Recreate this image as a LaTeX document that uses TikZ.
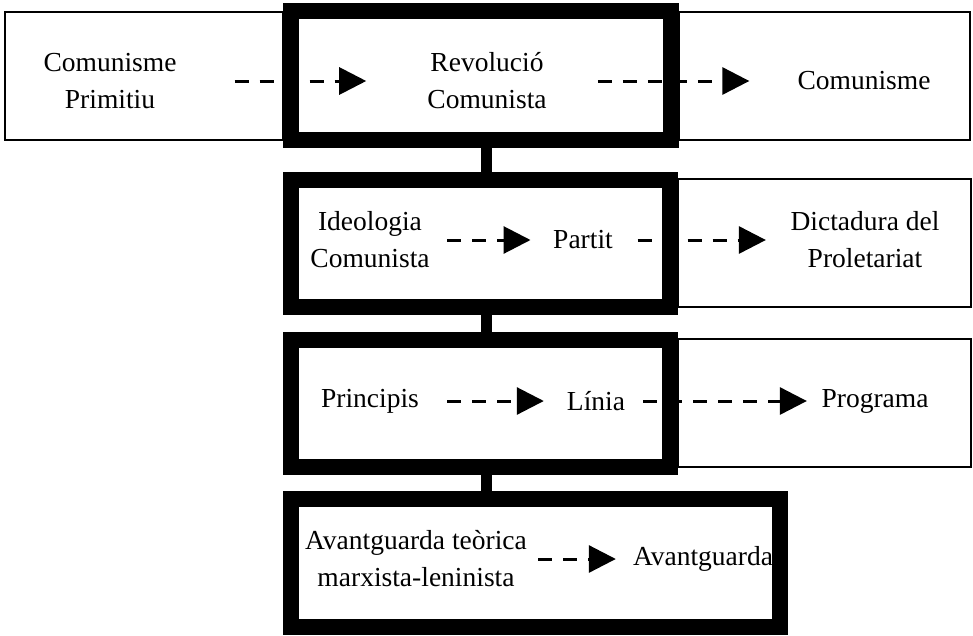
\documentclass[tikz,border=0pt]{standalone}
\usepackage{fontspec}
\setmainfont{Liberation Serif}
\usetikzlibrary{arrows.meta}

\begin{document}
\begin{tikzpicture}[x=1pt,y=-1pt,
		frame/.style={draw, line width=16pt, minimum width=380pt, inner sep=0pt},
		thinbox/.style={draw, line width=1.5pt, inner sep=0pt},
		lbl/.style={align=center, inner sep=0pt, font=\fontsize{27.5}{37}\selectfont},
		flow/.style={line width=3pt, dash pattern=on 14pt off 11pt, -{Triangle[length=27pt,width=27pt]}},
		link/.style={line width=11pt}]
		\useasboundingbox (0,0) rectangle (973,635);
		
		% thin boxes behind
		\node (left1) at (144,76) [thinbox, minimum width=278pt, minimum height=128pt] {};
		\node (right1) at (824.5,76) [thinbox, minimum width=291pt, minimum height=128pt] {};
		\node (right2) at (824.5,243) [thinbox, minimum width=293pt, minimum height=128pt] {};
		\node (right3) at (824.5,403) [thinbox, minimum width=293pt, minimum height=128pt] {};
		
		% thick frames
		\node (frame1) at (481,75.5) [frame, minimum height=129pt] {};
		\node (frame2) at (480.5,243.5) [frame, minimum width=379pt, minimum height=127pt] {};
		\node (frame3) at (480.5,403.5) [frame, minimum width=379pt, minimum height=127pt] {};
		\node (frame4) at (535.5,563) [frame, minimum width=489pt, minimum height=128pt] {};
		
		\draw[link] ([xshift=5pt]frame1.south) -- ([xshift=5.5pt]frame2.north);
		\draw[link] ([xshift=5.5pt]frame2.south) -- ([xshift=5.5pt]frame3.north);
		\draw[link] ([xshift=5.5pt]frame3.south) -- ([xshift=-49.5pt]frame4.north);
		
		% texts
		\node (prim) at (110,81) [lbl] {Comunisme\\Primitiu};
		\node (revo) at (487,81) [lbl] {Revolució\\Comunista};
		\node (comu) at (864,81) [lbl] {Comunisme};
		
		\node (ideo) at (370,240) [lbl] {Ideologia\\Comunista};
		\node (part) at (583,240) [lbl] {Partit};
		\node (dict) at (865,240) [lbl] {Dictadura del\\Proletariat};
		
		\node (princ) at (370,401) [lbl] {Principis};
		\node (linia) at (596,401) [lbl] {Línia};
		\node (progr) at (875,401) [lbl] {Programa};
		
		\node (teor) at (416,559) [lbl] {Avantguarda teòrica\\marxista-leninista};
		\node (avant) at (703,559) [lbl] {Avantguarda};
		
		% dashed arrows
		\draw[flow, shorten <=58pt, shorten >=61pt] (prim) -- (revo);
		\draw[flow, shorten <=51pt, shorten >=48pt] (revo) -- (comu);
		\draw[flow, shorten <=17.5pt, shorten >=22.5pt] (ideo) -- (part);
		\draw[flow, shorten <=24.5pt, shorten >=24.5pt] (part) -- (dict);
		\draw[flow, shorten <=28pt, shorten >=23pt] (princ) -- (linia);
		\draw[flow, shorten <=18pt, shorten >=14.5pt] (linia) -- (progr);
		\draw[flow, shorten <=11pt, shorten >=17pt] (teor) -- (avant);
	\end{tikzpicture}
\end{document}
